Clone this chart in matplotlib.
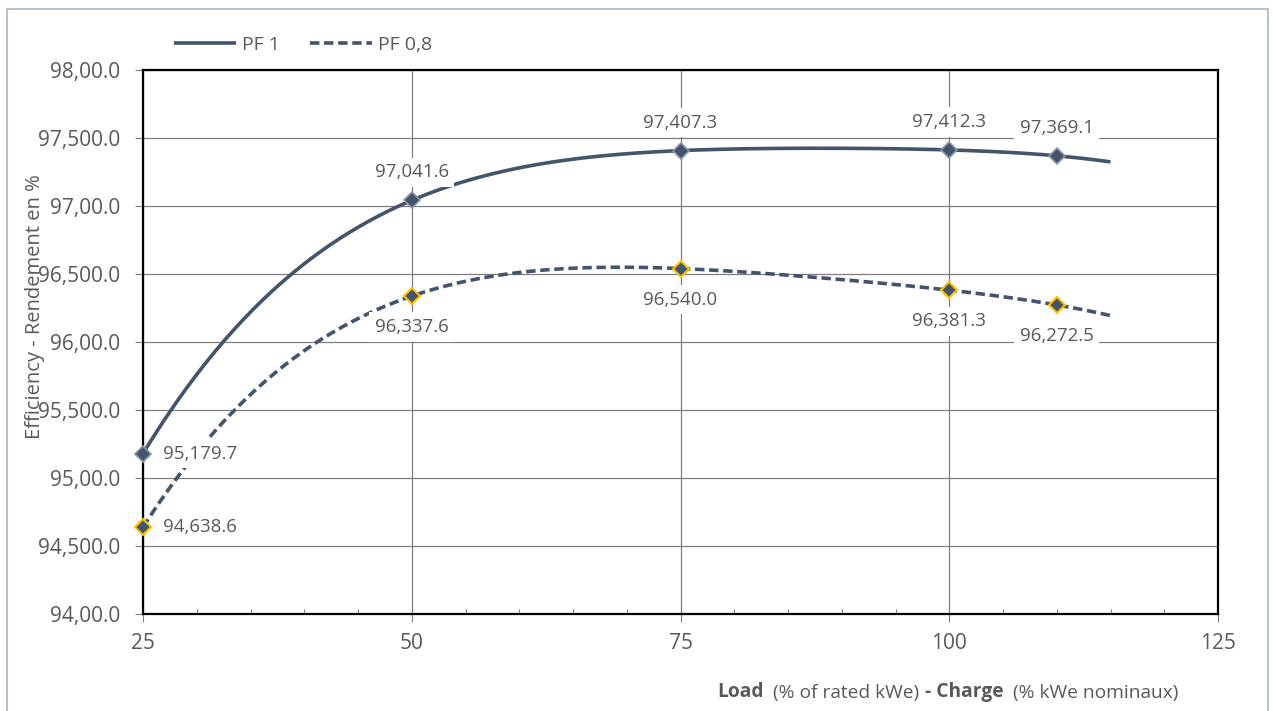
import numpy as np
import matplotlib.pyplot as plt
from matplotlib.patches import Rectangle

# data
load = [25, 50, 75, 100, 110]
pf1 = [95.1797, 97.0416, 97.4073, 97.4123, 97.3691]
pf08 = [94.6386, 96.3376, 96.5400, 96.3813, 96.2725]
y_ticks = [94.0, 94.5, 95.0, 95.5, 96.0, 96.5, 97.0, 97.5, 98.0]
y_tick_labels = ['94,00.0', '94,500.0', '95,00.0', '95,500.0', '96,00.0',
                 '96,500.0', '97,00.0', '97,500.0', '98,00.0']
x_ticks = [25, 50, 75, 100, 125]

plt.rcParams['font.family'] = ['Open Sans', 'DejaVu Sans']
text_color = '#595959'
line_color = '#44546A'


def fmt(v):
    # odd excel number format: 95.1797 -> 95,179.7
    s = f"{v:.4f}"
    whole, frac = s.split('.')
    return f"{whole},{frac[:3]}.{frac[3]}"


fig = plt.figure(figsize=(12.73, 7.11), dpi=100)
ax = fig.add_axes([143 / 1273, 1 - 614 / 711, (1218 - 143) / 1273, (614 - 70) / 711])

# border round the whole chart
fig.patches.append(Rectangle((6.5 / 1273, -0.05), (1268 - 6.5) / 1273, 1.05 - 8.5 / 711,
                             transform=fig.transFigure, fill=False,
                             edgecolor='#A7B4CB', lw=1.2))

# polynomial trendline through the points, forecast forward to 115
xs = np.linspace(25, 115, 400)
for vals, ls, name in [(pf1, '-', 'PF 1'), (pf08, '--', 'PF 0,8')]:
    coef = np.polyfit(load, vals, 4)
    line, = ax.plot(xs, np.polyval(coef, xs), color=line_color, lw=2.6,
                    linestyle=ls, label=name, zorder=2, solid_capstyle='butt')
    if ls == '--':
        line.set_dashes((2.6, 1.3))
        line.set_dash_capstyle('butt')

ax.plot(load, pf1, linestyle='none', marker='D', ms=8, color=line_color,
        mec='#8A95A5', mew=1.2, zorder=6, clip_on=False)
ax.plot(load, pf08, linestyle='none', marker='D', ms=8, color=line_color,
        mec='#FFC000', mew=1.5, zorder=6, clip_on=False)

box = dict(boxstyle='square,pad=0.3', fc='white', ec='none')
for i, (x, y) in enumerate(zip(load, pf1)):
    if i == 0:
        off, ha = (20, 0), 'left'
    else:
        off, ha = (0, 28), 'center'
    ax.annotate(fmt(y), (x, y), xytext=off, textcoords='offset pixels',
                ha=ha, va='center', fontsize=13.5, color=text_color,
                bbox=box, zorder=4)
for i, (x, y) in enumerate(zip(load, pf08)):
    if i == 0:
        off, ha = (20, 0), 'left'
    else:
        off, ha = (0, -31), 'center'
    ax.annotate(fmt(y), (x, y), xytext=off, textcoords='offset pixels',
                ha=ha, va='center', fontsize=13.5, color=text_color,
                bbox=box, zorder=4)

ax.set_xlim(25, 125)
ax.set_ylim(94, 98)
ax.set_xticks(x_ticks)
ax.set_xticks(np.arange(25, 126, 5), minor=True)
ax.set_yticks(y_ticks)
ax.set_yticklabels(y_tick_labels)
ax.tick_params(axis='both', which='major', direction='out', length=5.5, width=0.8,
               color='#7f7f7f', labelcolor=text_color, labelsize=15)
ax.tick_params(axis='y', pad=11)
ax.tick_params(axis='x', pad=8)
ax.tick_params(axis='x', which='minor', direction='in', length=3.5, width=0.8, color='#7f7f7f')
ax.tick_params(axis='y', which='minor', left=False)

ax.grid(True, which='major', color='#7f7f7f', lw=0.9)
ax.set_axisbelow(True)
for sp in ax.spines.values():
    sp.set_color('black')
    sp.set_linewidth(1.6)

fig.text(35 / 1273, 1 - 307 / 711, 'Efficiency - Rendement en %', rotation=90,
         ha='center', va='center', fontsize=14.5, color=text_color)

# x axis title with bold parts
parts = [('Load', 'bold'), ('  (% of rated kWe) ', 'normal'),
         ('- Charge', 'bold'), ('  (% kWe nominaux)', 'normal')]
prev = fig.text(717 / 1273, 1 - 697 / 711, parts[0][0], fontweight=parts[0][1],
                fontsize=13.8, color=text_color, va='baseline', ha='left')
for txt, w in parts[1:]:
    prev = ax.annotate(txt, xy=(1, 0), xycoords=prev, va='bottom', ha='left',
                       fontweight=w, fontsize=13.8, color=text_color,
                       annotation_clip=False)

fig.legend(loc='center left', bbox_to_anchor=(174 / 1273, 1 - 45 / 711), ncol=2,
           frameon=False, fontsize=14, handlelength=3.2, handletextpad=0.3,
           columnspacing=1.55, borderpad=0, borderaxespad=0, labelcolor=text_color)

fig.savefig('out.png', dpi=100)
